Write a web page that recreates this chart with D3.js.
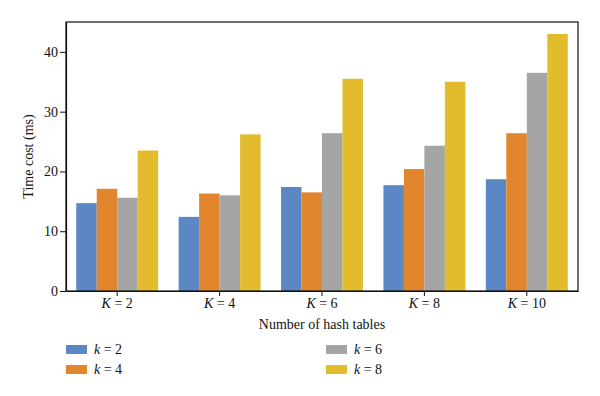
<!DOCTYPE html>
<html>
<head>
<meta charset="utf-8">
<script src="https://cdn.jsdelivr.net/npm/d3@7"></script>
<style>
  body { margin: 0; background: #fff; }
  text { font-family: "Liberation Serif", "DejaVu Serif", serif; fill: #111; }
</style>
</head>
<body>
<div id="chart"></div>
<script>
var groups = ["2", "4", "6", "8", "10"];
var seriesNames = ["2", "4", "6", "8"];
var k2 = [14.7, 12.4, 17.4, 17.7, 18.7];
var k4 = [17.1, 16.3, 16.5, 20.4, 26.4];
var k6 = [15.6, 16.0, 26.4, 24.3, 36.5];
var k8 = [23.5, 26.2, 35.5, 35.0, 43.0];
var yTicks = [0, 10, 20, 30, 40];
var colors = ["#5b88c4", "#e2862e", "#a5a5a5", "#e3bc2e"];

var series = [k2, k4, k6, k8];

var margin = { top: 22, right: 22, bottom: 105, left: 66 },
    width = 600 - margin.left - margin.right,
    height = 396 - margin.top - margin.bottom;

var svg = d3.select("#chart")
    .append("svg")
    .attr("width", 600)
    .attr("height", 396);

var g = svg.append("g")
    .attr("transform", "translate(" + margin.left + "," + margin.top + ")");

var x = d3.scaleBand()
    .domain(groups)
    .range([0, width])
    .paddingInner(0.2)
    .paddingOuter(0.1);

var xs = d3.scaleBand()
    .domain(d3.range(series.length))
    .range([0, x.bandwidth()]);

var y = d3.scaleLinear()
    .domain([0, 45])
    .range([height, 0]);

// bars
series.forEach(function (vals, i) {
    g.selectAll(".bar" + i)
        .data(vals)
        .join("rect")
        .attr("x", (d, j) => x(groups[j]) + xs(i))
        .attr("y", d => y(d))
        .attr("width", xs.bandwidth())
        .attr("height", d => height - y(d))
        .attr("fill", colors[i]);
});

// frame
g.append("rect")
    .attr("width", width)
    .attr("height", height)
    .attr("fill", "none")
    .attr("stroke", "#111")
    .attr("stroke-width", 1.2);

// x axis
var xAxis = g.append("g")
    .attr("transform", "translate(0," + height + ")")
    .call(d3.axisBottom(x).tickSize(5).tickSizeOuter(0).tickFormat(""));
xAxis.select(".domain").attr("stroke", "#111").attr("stroke-width", 1.2);
xAxis.selectAll(".tick line").attr("stroke", "#111");
xAxis.selectAll(".tick").append("text")
    .attr("y", 17)
    .attr("text-anchor", "middle")
    .style("font-size", "14px")
    .each(function (d) {
        var t = d3.select(this);
        t.append("tspan").style("font-style", "italic").text("K");
        t.append("tspan").text(" = " + d);
    });

// y axis
var yAxis = g.append("g")
    .call(d3.axisLeft(y).tickValues(yTicks).tickSize(6).tickSizeOuter(0).tickPadding(2));
yAxis.select(".domain").attr("stroke", "#111").attr("stroke-width", 1.2);
yAxis.selectAll(".tick line").attr("stroke", "#111");
yAxis.selectAll(".tick text")
    .style("font-size", "14px")
    .style("font-family", "'Liberation Serif', serif")
    .attr("fill", "#111");

// axis titles
svg.append("text")
    .attr("x", margin.left + width / 2)
    .attr("y", 329)
    .attr("text-anchor", "middle")
    .style("font-size", "14px")
    .text("Number of hash tables");

svg.append("text")
    .attr("transform", "translate(33," + (margin.top + height / 2) + ") rotate(-90)")
    .attr("text-anchor", "middle")
    .style("font-size", "14px")
    .text("Time cost (ms)");

// legend
var legend = svg.selectAll(".legend")
    .data(seriesNames)
    .join("g")
    .attr("transform", (d, i) => "translate(" + (i < 2 ? 66 : 326) + "," + (345 + (i % 2) * 20) + ")");
legend.append("rect")
    .attr("width", 21)
    .attr("height", 9)
    .attr("fill", (d, i) => colors[i]);
legend.append("text")
    .attr("x", 28)
    .attr("y", 9)
    .style("font-size", "14px")
    .each(function (d) {
        var t = d3.select(this);
        t.append("tspan").style("font-style", "italic").text("k");
        t.append("tspan").text(" = " + d);
    });
</script>
</body>
</html>
